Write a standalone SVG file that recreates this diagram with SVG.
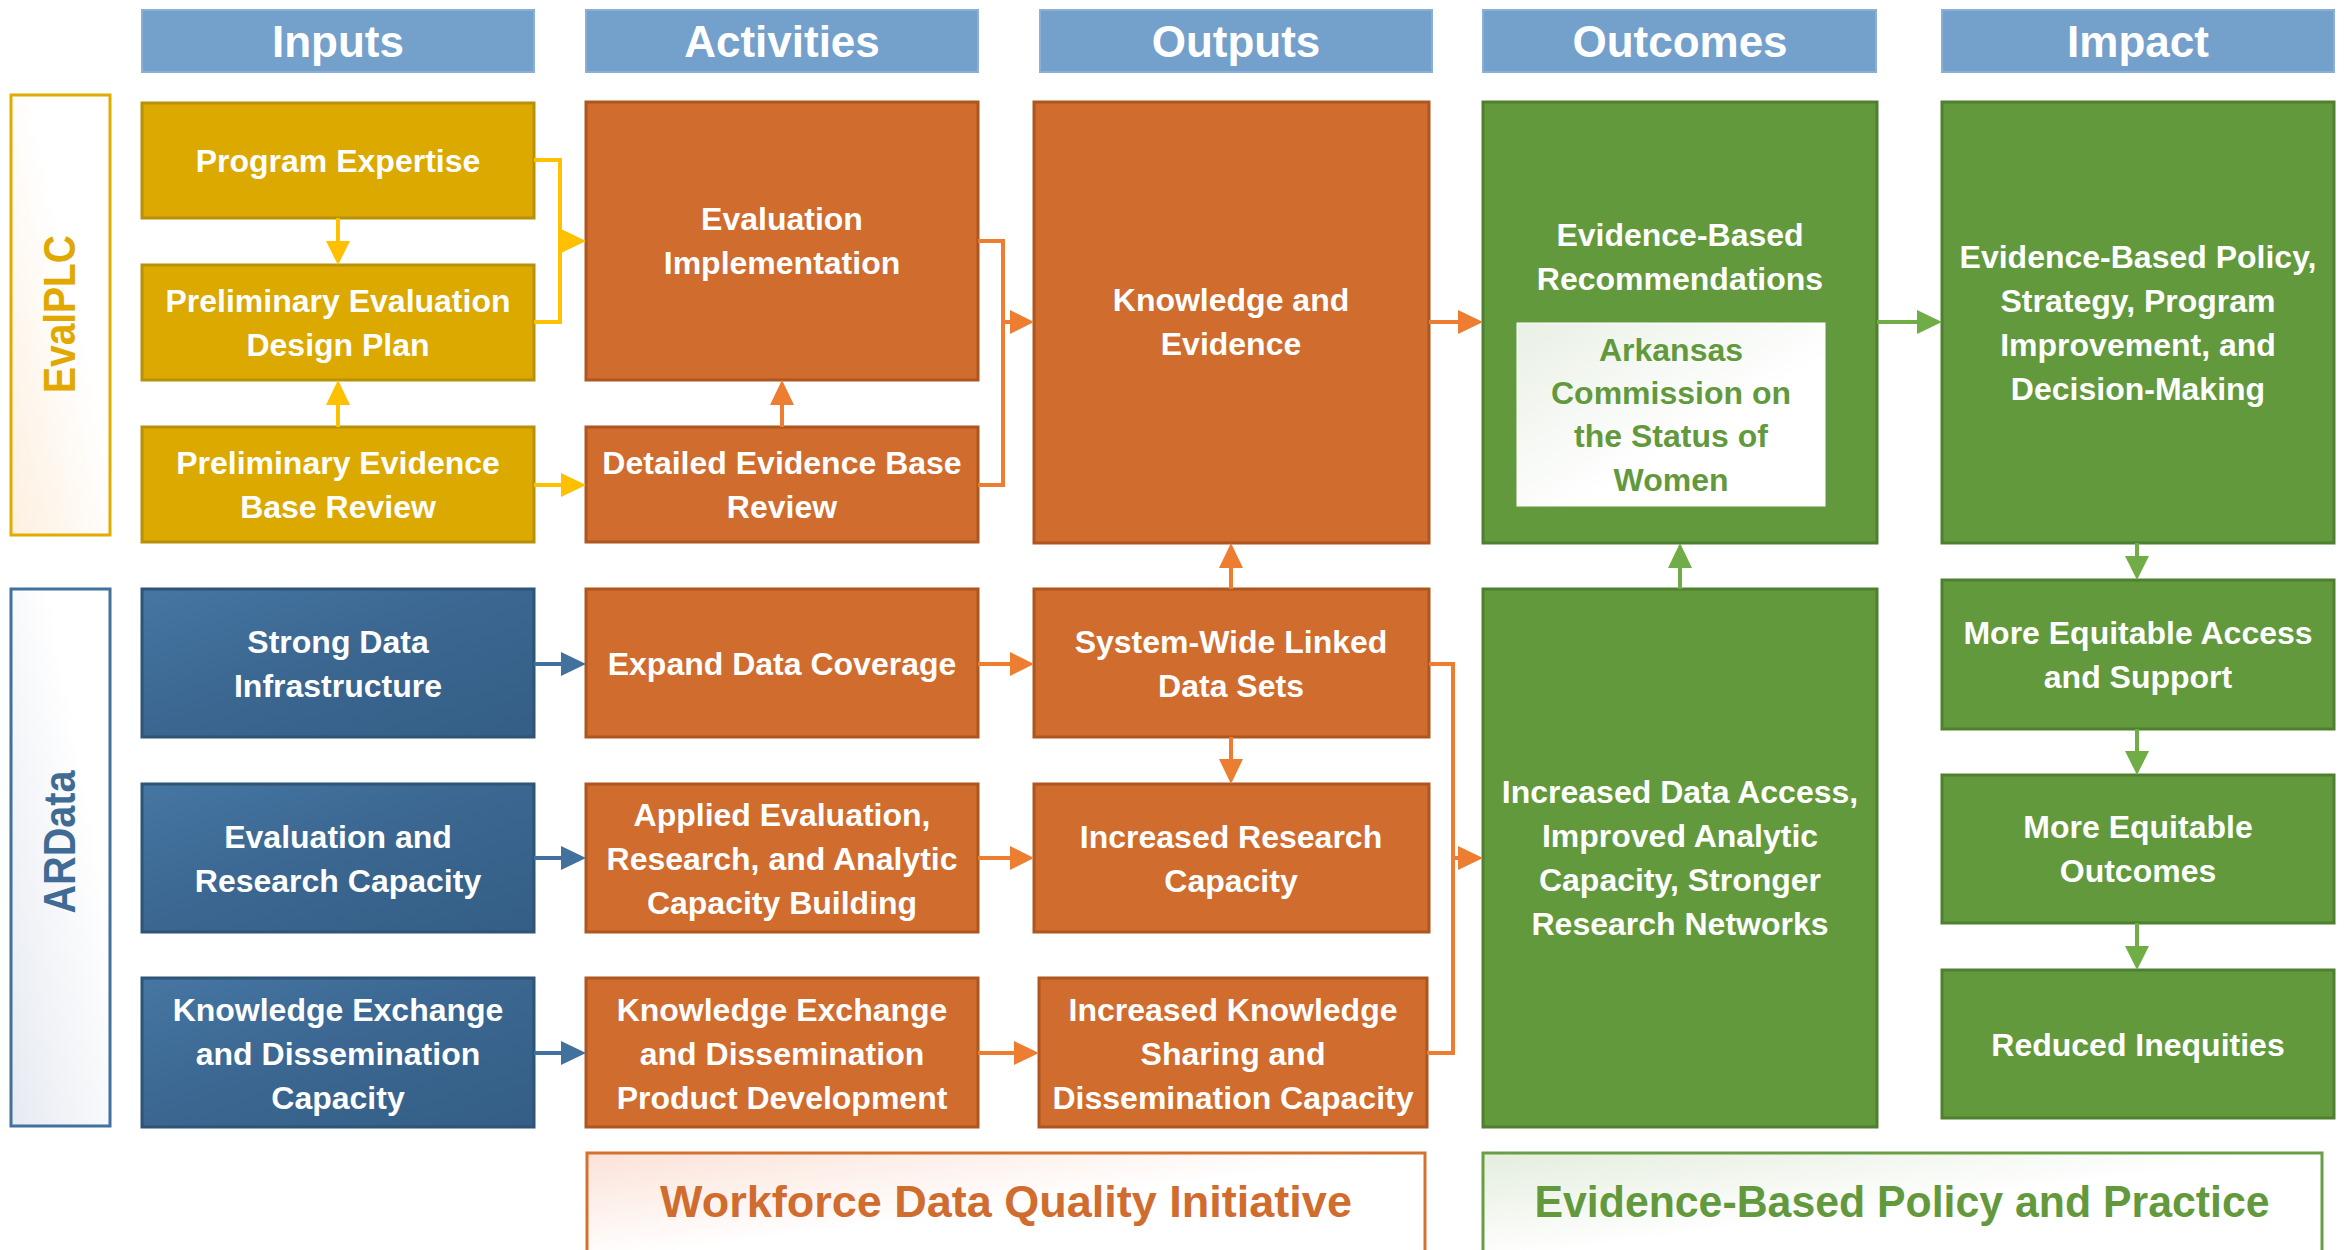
<svg xmlns="http://www.w3.org/2000/svg" width="2349" height="1250" viewBox="0 0 2349 1250">
<defs>
<linearGradient id="gBlue" x1="0" y1="0" x2="1" y2="1"><stop offset="0" stop-color="#4676A3"/><stop offset="0.5" stop-color="#3A6690"/><stop offset="1" stop-color="#345E85"/></linearGradient>
<linearGradient id="gEval" x1="0" y1="1" x2="1" y2="0"><stop offset="0" stop-color="#FDF0E0"/><stop offset="0.6" stop-color="#FFFFFF"/></linearGradient>
<linearGradient id="gAR" x1="0" y1="1" x2="1" y2="0"><stop offset="0" stop-color="#E6EAF1"/><stop offset="0.7" stop-color="#FFFFFF"/></linearGradient>
<linearGradient id="gWF" x1="0" y1="0" x2="1" y2="1"><stop offset="0" stop-color="#FBE2D8"/><stop offset="0.5" stop-color="#FFFFFF"/></linearGradient>
<linearGradient id="gEB" x1="0" y1="0" x2="1" y2="1"><stop offset="0" stop-color="#E4EDDD"/><stop offset="0.5" stop-color="#FFFFFF"/></linearGradient>
<linearGradient id="gAK" x1="0" y1="0" x2="1" y2="1"><stop offset="0" stop-color="#E9F0E5"/><stop offset="0.6" stop-color="#FFFFFF"/></linearGradient>
</defs>
<style>
text{font-family:"Liberation Sans",Arial,sans-serif;font-weight:bold;text-anchor:middle}
.hd rect{fill:#74A0CC;stroke:#8BB0D6;stroke-width:2}
.hd text{fill:#FFFFFF;font-size:44px}
.y rect{fill:#DCA900;stroke:#B8900A;stroke-width:3}
.o rect{fill:#D06C2E;stroke:#AD561F;stroke-width:3}
.g rect{fill:#63993D;stroke:#4E8030;stroke-width:3}
.b rect{fill:url(#gBlue);stroke:#2E5478;stroke-width:3}
.n text{fill:#FFFFFF;font-size:32px}
.g rect.ak{fill:url(#gAK);stroke:#FFFFFF;stroke-width:1}
.n text.akt{fill:#63993D}
.cy{stroke:#FFC000;stroke-width:4;fill:none}
.co{stroke:#ED7D31;stroke-width:4;fill:none}
.cg{stroke:#70AD47;stroke-width:4;fill:none}
.cb{stroke:#41719C;stroke-width:4;fill:none}
.hy{fill:#FFC000}.ho{fill:#ED7D31}.hg{fill:#70AD47}.hb{fill:#41719C}
</style>
<rect width="2349" height="1250" fill="#FFFFFF"/>

<g id="headers">
<g id="h-inputs" class="hd"><rect x="142" y="10" width="392" height="62"/><text x="338" y="57">Inputs</text></g>
<g id="h-activities" class="hd"><rect x="586" y="10" width="392" height="62"/><text x="782" y="57">Activities</text></g>
<g id="h-outputs" class="hd"><rect x="1040" y="10" width="392" height="62"/><text x="1236" y="57">Outputs</text></g>
<g id="h-outcomes" class="hd"><rect x="1483" y="10" width="393" height="62"/><text x="1680" y="57">Outcomes</text></g>
<g id="h-impact" class="hd"><rect x="1942" y="10" width="392" height="62"/><text x="2138" y="57">Impact</text></g>
</g>

<g id="evalplc"><rect x="11" y="95" width="99" height="440" fill="url(#gEval)" stroke="#E0AC00" stroke-width="3"/><text transform="translate(75,314) rotate(-90)" font-size="44" fill="#E0A800" textLength="158" lengthAdjust="spacingAndGlyphs">EvalPLC</text></g>
<g id="ardata"><rect x="11" y="589" width="99" height="537" fill="url(#gAR)" stroke="#41719C" stroke-width="3"/><text transform="translate(75,842) rotate(-90)" font-size="44" fill="#3F6B94" textLength="143" lengthAdjust="spacingAndGlyphs">ARData</text></g>

<g id="program-expertise" class="n y"><rect x="142" y="103" width="392" height="115"/><text x="338" y="172">Program Expertise</text></g>
<g id="prelim-design" class="n y"><rect x="142" y="265" width="392" height="115"/><text x="338" y="312">Preliminary Evaluation</text><text x="338" y="356">Design Plan</text></g>
<g id="prelim-evidence" class="n y"><rect x="142" y="427" width="392" height="115"/><text x="338" y="474">Preliminary Evidence</text><text x="338" y="518">Base Review</text></g>
<g id="strong-data" class="n b"><rect x="142" y="589" width="392" height="148"/><text x="338" y="653">Strong Data</text><text x="338" y="697">Infrastructure</text></g>
<g id="eval-research" class="n b"><rect x="142" y="784" width="392" height="148"/><text x="338" y="848">Evaluation and</text><text x="338" y="892">Research Capacity</text></g>
<g id="ke-capacity" class="n b"><rect x="142" y="978" width="392" height="149"/><text x="338" y="1021">Knowledge Exchange</text><text x="338" y="1065">and Dissemination</text><text x="338" y="1109">Capacity</text></g>

<g id="eval-impl" class="n o"><rect x="586" y="102" width="392" height="278"/><text x="782" y="230">Evaluation</text><text x="782" y="274">Implementation</text></g>
<g id="detailed-review" class="n o"><rect x="586" y="427" width="392" height="115"/><text x="782" y="474">Detailed Evidence Base</text><text x="782" y="518">Review</text></g>
<g id="expand-data" class="n o"><rect x="586" y="589" width="392" height="148"/><text x="782" y="675">Expand Data Coverage</text></g>
<g id="applied-eval" class="n o"><rect x="586" y="784" width="392" height="148"/><text x="782" y="826">Applied Evaluation,</text><text x="782" y="870">Research, and Analytic</text><text x="782" y="914">Capacity Building</text></g>
<g id="ke-product" class="n o"><rect x="586" y="978" width="392" height="149"/><text x="782" y="1021">Knowledge Exchange</text><text x="782" y="1065">and Dissemination</text><text x="782" y="1109">Product Development</text></g>

<g id="knowledge-evidence" class="n o"><rect x="1034" y="102" width="395" height="441"/><text x="1231" y="311">Knowledge and</text><text x="1231" y="355">Evidence</text></g>
<g id="linked-data" class="n o"><rect x="1034" y="589" width="395" height="148"/><text x="1231" y="653">System-Wide Linked</text><text x="1231" y="697">Data Sets</text></g>
<g id="incr-research" class="n o"><rect x="1034" y="784" width="395" height="148"/><text x="1231" y="848">Increased Research</text><text x="1231" y="892">Capacity</text></g>
<g id="incr-knowledge" class="n o"><rect x="1039" y="978" width="388" height="149"/><text x="1233" y="1021">Increased Knowledge</text><text x="1233" y="1065">Sharing and</text><text x="1233" y="1109">Dissemination Capacity</text></g>

<g id="eb-recommendations" class="n g"><rect x="1483" y="102" width="394" height="441"/><text x="1680" y="246">Evidence-Based</text><text x="1680" y="290">Recommendations</text>
<rect class="ak" x="1517" y="323" width="308" height="183"/>
<text class="akt" x="1671" y="361">Arkansas</text><text class="akt" x="1671" y="404">Commission on</text><text class="akt" x="1671" y="447">the Status of</text><text class="akt" x="1671" y="491">Women</text></g>
<g id="incr-data-access" class="n g"><rect x="1483" y="589" width="394" height="538"/><text x="1680" y="803">Increased Data Access,</text><text x="1680" y="847">Improved Analytic</text><text x="1680" y="891">Capacity, Stronger</text><text x="1680" y="935">Research Networks</text></g>

<g id="eb-policy" class="n g"><rect x="1942" y="102" width="392" height="441"/><text x="2138" y="268">Evidence-Based Policy,</text><text x="2138" y="312">Strategy, Program</text><text x="2138" y="356">Improvement, and</text><text x="2138" y="400">Decision-Making</text></g>
<g id="equitable-access" class="n g"><rect x="1942" y="580" width="392" height="149"/><text x="2138" y="644">More Equitable Access</text><text x="2138" y="688">and Support</text></g>
<g id="equitable-outcomes" class="n g"><rect x="1942" y="775" width="392" height="148"/><text x="2138" y="838">More Equitable</text><text x="2138" y="882">Outcomes</text></g>
<g id="reduced-inequities" class="n g"><rect x="1942" y="970" width="392" height="148"/><text x="2138" y="1056">Reduced Inequities</text></g>

<g id="workforce-banner"><rect x="587" y="1153" width="838" height="110" fill="url(#gWF)" stroke="#D3712F" stroke-width="3"/><text x="1006" y="1217" font-size="45" fill="#D06C2E">Workforce Data Quality Initiative</text></g>
<g id="ebpp-banner"><rect x="1483" y="1153" width="839" height="110" fill="url(#gEB)" stroke="#6A9E45" stroke-width="3"/><text x="1902" y="1217" font-size="44" fill="#63993D" textLength="735" lengthAdjust="spacingAndGlyphs">Evidence-Based Policy and Practice</text></g>

<g id="connectors">
<path class="cy" d="M338,218 V242"/><polygon class="hy" points="326,241 350,241 338,265"/>
<path class="cy" d="M338,427 V404"/><polygon class="hy" points="326,405 350,405 338,380"/>
<path class="cy" d="M534,160 H560 V322 H534 M560,241 H562"/><polygon class="hy" points="561,229 561,253 586,241"/>
<path class="cy" d="M534,485 H562"/><polygon class="hy" points="561,473 561,497 586,485"/>

<path class="co" d="M782,427 V404"/><polygon class="ho" points="770,405 794,405 782,380"/>
<path class="co" d="M978,241 H1003 V485 H978 M1003,322 H1011"/><polygon class="ho" points="1010,310 1010,334 1034,322"/>
<path class="co" d="M1429,322 H1459"/><polygon class="ho" points="1458,310 1458,334 1483,322"/>
<path class="co" d="M1231,589 V567"/><polygon class="ho" points="1219,568 1243,568 1231,543"/>
<path class="co" d="M1231,737 V760"/><polygon class="ho" points="1219,759 1243,759 1231,784"/>
<path class="co" d="M978,664 H1011"/><polygon class="ho" points="1010,652 1010,676 1034,664"/>
<path class="co" d="M978,858 H1011"/><polygon class="ho" points="1010,846 1010,870 1034,858"/>
<path class="co" d="M978,1053 H1015"/><polygon class="ho" points="1014,1041 1014,1065 1039,1053"/>
<path class="co" d="M1429,664 H1453 V1053 H1427 M1453,858 H1459"/><polygon class="ho" points="1458,846 1458,870 1483,858"/>

<path class="cg" d="M1877,322 H1918"/><polygon class="hg" points="1917,310 1917,334 1942,322"/>
<path class="cg" d="M1680,589 V567"/><polygon class="hg" points="1668,568 1692,568 1680,543"/>
<path class="cg" d="M2137,543 V557"/><polygon class="hg" points="2125,556 2149,556 2137,580"/>
<path class="cg" d="M2137,729 V752"/><polygon class="hg" points="2125,751 2149,751 2137,775"/>
<path class="cg" d="M2137,923 V947"/><polygon class="hg" points="2125,946 2149,946 2137,970"/>

<path class="cb" d="M534,664 H562"/><polygon class="hb" points="561,652 561,676 586,664"/>
<path class="cb" d="M534,858 H562"/><polygon class="hb" points="561,846 561,870 586,858"/>
<path class="cb" d="M534,1053 H562"/><polygon class="hb" points="561,1041 561,1065 586,1053"/>
</g>
</svg>
